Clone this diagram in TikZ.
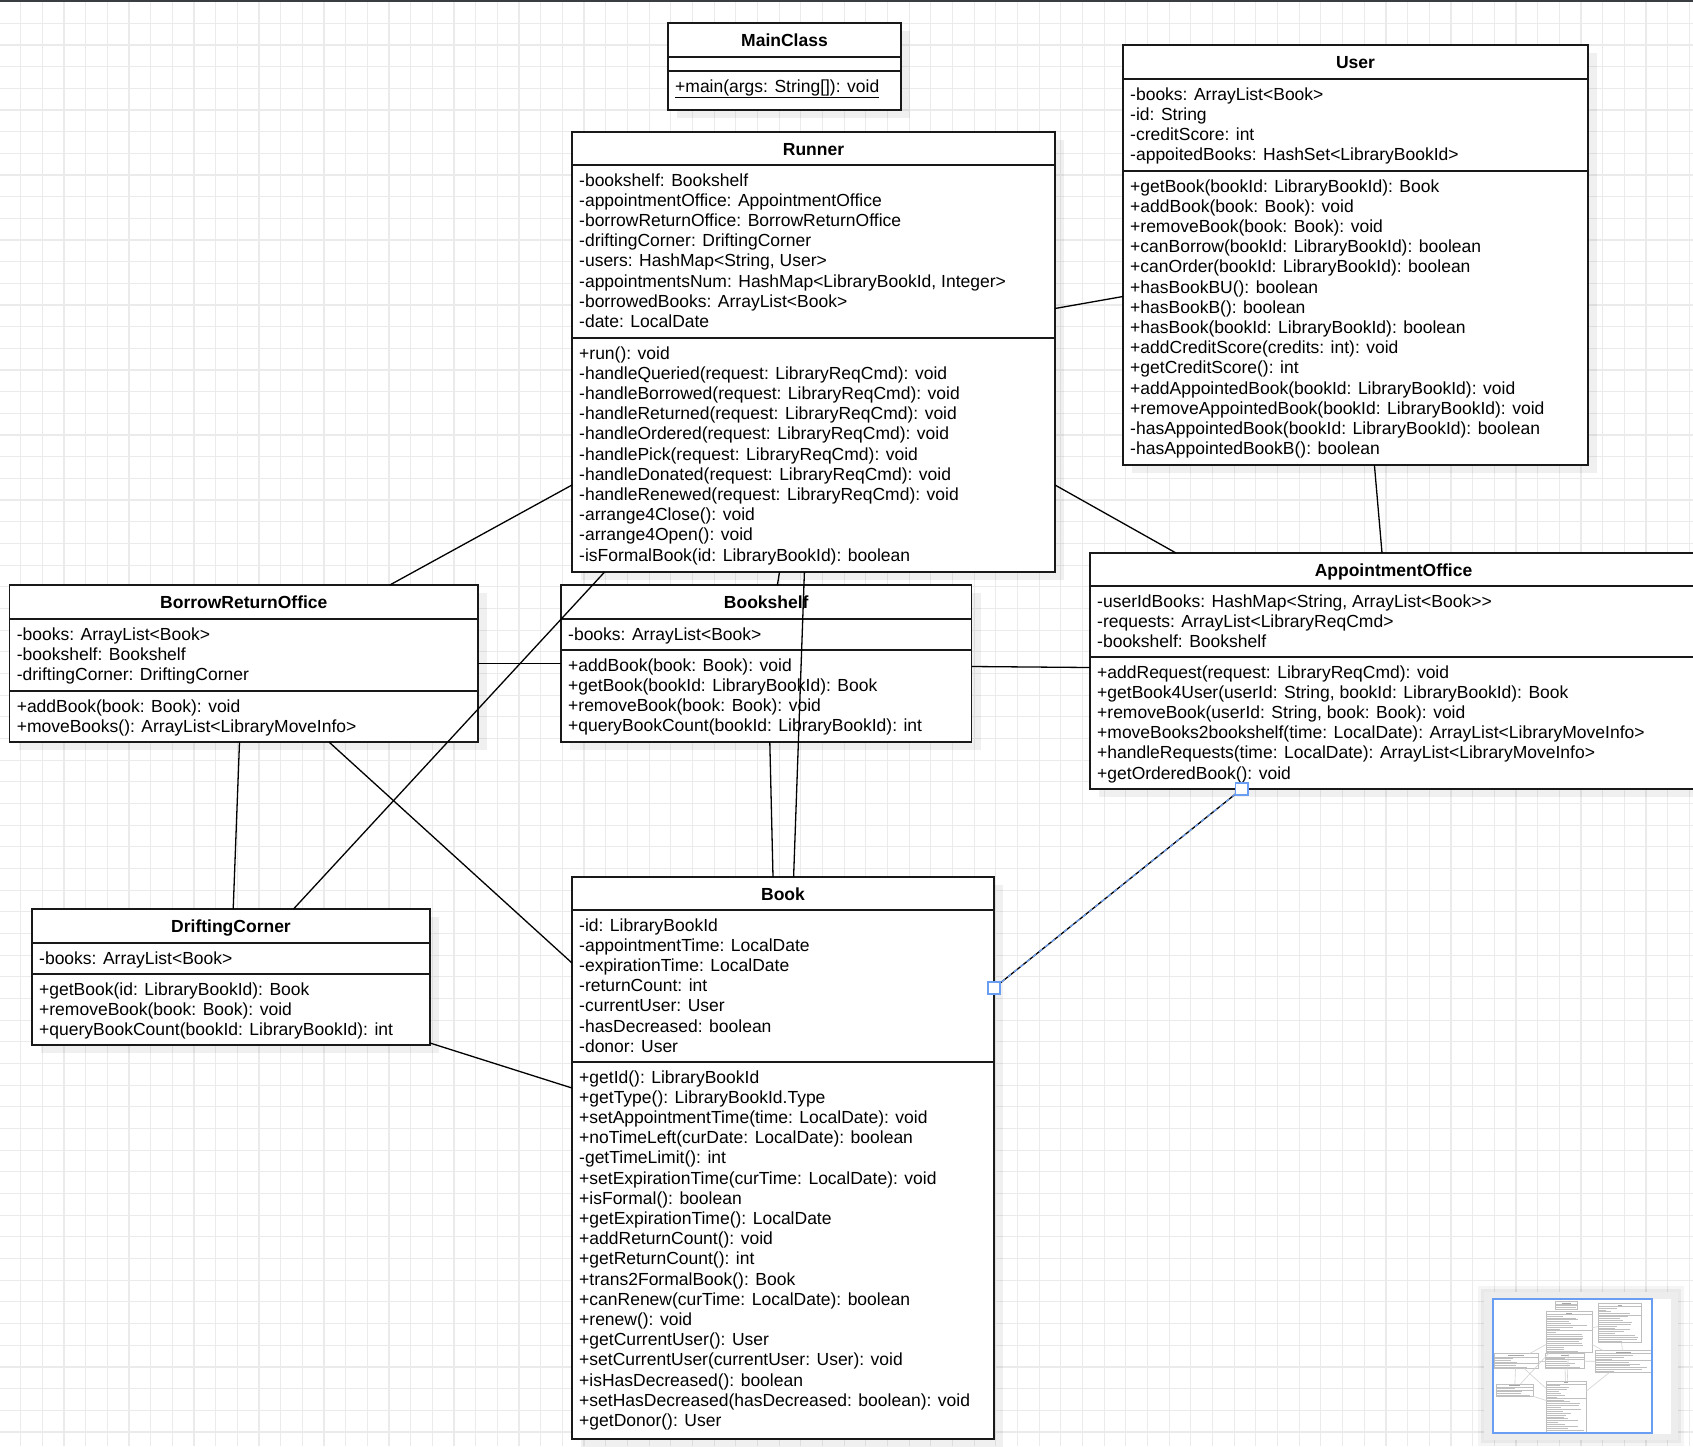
\documentclass[tikz,border=0pt]{standalone}
\usepackage{fontspec}
\setmainfont{Liberation Sans}

\definecolor{colrejilla}{HTML}{EBEBEB}
\definecolor{colbarra}{HTML}{3A3D41}
\definecolor{colazul}{HTML}{6A9EF2}
\definecolor{colmarco}{HTML}{EDEDED}

\newif\ifmapa
\newcommand{\esc}{1}

\tikzset{
  rejilla/.style={draw=colrejilla, line width=1.2pt},
  caja/.style={draw=black!90, line width=1.3pt, fill=white, anchor=north west, inner sep=0pt, outer sep=0pt},
  sombra/.style={fill=black, opacity=0.06},
  linea/.style={draw=black!90, line width=1.3pt},
  conector/.style={draw=black, line width=1.3pt},
  seleccion/.style={draw=colazul, line width=1.3pt, dash pattern=on 4pt off 4pt},
  asa/.style={draw=colazul, fill=white, line width=1.8pt, minimum size=12.5pt, inner sep=0pt},
  titulo/.style={anchor=base, inner sep=0pt, font=\fontsize{17.5}{20}\selectfont\bfseries},
  miembro/.style={anchor=base west, inner sep=0pt, font=\fontsize{17.5}{20}\selectfont},
}

% texto normal, o barra gris en el minimapa
\newcommand{\texto}[1]{\ifmapa\setbox0\hbox{#1}\rule{\esc\wd0}{0.6pt}\else#1\fi}

% caja de clase: nombre, x, y, ancho, alto, titulo
\newcommand{\clase}[6]{%
  \ifmapa\else\fill[sombra] (#2+9,#3+8) rectangle ++(#4,#5);\fi
  \node[caja, minimum width=#4*\esc, minimum height=#5*\esc] (#1) at (#2,#3) {};
  \node[titulo] (#1-titulo) at (#2+#4/2,#3+23.5) {\texto{#6}};
}

% compartimento: nombre, x, y, ancho, lineas
\newcommand{\compartimento}[5]{%
  \draw[linea] (#2,#3) -- ++(#4,0);
  \foreach \txt [count=\k] in {#5}
    \node[miembro] (#1-\k) at ({#2+7},{#3+0.8+\k*20.2}) {\texto{\txt}};
}

\newcommand{\diagrama}{%
  % MainClass
  \clase{mainclass}{668}{23}{233}{87}{MainClass}
  \draw[linea] (668,57) -- ++(233,0);
  \compartimento{mainclass-m}{668}{71}{233}{\underline{+main(args: String[]): void}}

  % Runner
  \clase{runner}{572}{132}{483}{440}{Runner}
  \compartimento{runner-a}{572}{165}{483}{-bookshelf: Bookshelf,
    -appointmentOffice: AppointmentOffice, -borrowReturnOffice: BorrowReturnOffice,
    -driftingCorner: DriftingCorner, {-users: HashMap<String, User>},
    {-appointmentsNum: HashMap<LibraryBookId, Integer>},
    -borrowedBooks: ArrayList<Book>, -date: LocalDate}
  \compartimento{runner-m}{572}{338}{483}{+run(): void,
    -handleQueried(request: LibraryReqCmd): void,
    -handleBorrowed(request: LibraryReqCmd): void,
    -handleReturned(request: LibraryReqCmd): void,
    -handleOrdered(request: LibraryReqCmd): void,
    -handlePick(request: LibraryReqCmd): void,
    -handleDonated(request: LibraryReqCmd): void,
    -handleRenewed(request: LibraryReqCmd): void,
    -arrange4Close(): void, -arrange4Open(): void,
    -isFormalBook(id: LibraryBookId): boolean}

  % User
  \clase{user}{1123}{45}{465}{420}{User}
  \compartimento{user-a}{1123}{79}{465}{-books: ArrayList<Book>, -id: String,
    -creditScore: int, -appoitedBooks: HashSet<LibraryBookId>}
  \compartimento{user-m}{1123}{171}{465}{+getBook(bookId: LibraryBookId): Book,
    +addBook(book: Book): void, +removeBook(book: Book): void,
    +canBorrow(bookId: LibraryBookId): boolean,
    +canOrder(bookId: LibraryBookId): boolean,
    +hasBookBU(): boolean, +hasBookB(): boolean,
    +hasBook(bookId: LibraryBookId): boolean,
    +addCreditScore(credits: int): void, +getCreditScore(): int,
    +addAppointedBook(bookId: LibraryBookId): void,
    +removeAppointedBook(bookId: LibraryBookId): void,
    -hasAppointedBook(bookId: LibraryBookId): boolean,
    -hasAppointedBookB(): boolean}

  % BorrowReturnOffice
  \clase{borrowoffice}{9.6}{585}{468.4}{157}{BorrowReturnOffice}
  \compartimento{borrowoffice-a}{9.6}{619}{468.4}{-books: ArrayList<Book>,
    -bookshelf: Bookshelf, -driftingCorner: DriftingCorner}
  \compartimento{borrowoffice-m}{9.6}{691}{468.4}{+addBook(book: Book): void,
    +moveBooks(): ArrayList<LibraryMoveInfo>}

  % Bookshelf
  \clase{bookshelf}{561}{585}{410.5}{157}{Bookshelf}
  \compartimento{bookshelf-a}{561}{619}{410.5}{-books: ArrayList<Book>}
  \compartimento{bookshelf-m}{561}{650}{410.5}{+addBook(book: Book): void,
    +getBook(bookId: LibraryBookId): Book, +removeBook(book: Book): void,
    +queryBookCount(bookId: LibraryBookId): int}

  % AppointmentOffice
  \clase{appointoffice}{1090}{553}{607}{236}{AppointmentOffice}
  \compartimento{appointoffice-a}{1090}{586}{607}{{-userIdBooks: HashMap<String, ArrayList<Book>{}>},
    -requests: ArrayList<LibraryReqCmd>, -bookshelf: Bookshelf}
  \compartimento{appointoffice-m}{1090}{657}{607}{+addRequest(request: LibraryReqCmd): void,
    {+getBook4User(userId: String, bookId: LibraryBookId): Book},
    {+removeBook(userId: String, book: Book): void},
    +moveBooks2bookshelf(time: LocalDate): ArrayList<LibraryMoveInfo>,
    +handleRequests(time: LocalDate): ArrayList<LibraryMoveInfo>,
    +getOrderedBook(): void}

  % DriftingCorner
  \clase{drifting}{32}{909}{398}{136}{DriftingCorner}
  \compartimento{drifting-a}{32}{943}{398}{-books: ArrayList<Book>}
  \compartimento{drifting-m}{32}{974}{398}{+getBook(id: LibraryBookId): Book,
    +removeBook(book: Book): void, +queryBookCount(bookId: LibraryBookId): int}

  % Book
  \clase{book}{572}{877}{422}{562}{Book}
  \compartimento{book-a}{572}{910}{422}{-id: LibraryBookId,
    -appointmentTime: LocalDate, -expirationTime: LocalDate, -returnCount: int,
    -currentUser: User, -hasDecreased: boolean, -donor: User}
  \compartimento{book-m}{572}{1062}{422}{+getId(): LibraryBookId,
    +getType(): LibraryBookId.Type, +setAppointmentTime(time: LocalDate): void,
    +noTimeLeft(curDate: LocalDate): boolean, -getTimeLimit(): int,
    +setExpirationTime(curTime: LocalDate): void, +isFormal(): boolean,
    +getExpirationTime(): LocalDate, +addReturnCount(): void,
    +getReturnCount(): int, +trans2FormalBook(): Book,
    +canRenew(curTime: LocalDate): boolean, +renew(): void,
    +getCurrentUser(): User, +setCurrentUser(currentUser: User): void,
    +isHasDecreased(): boolean, +setHasDecreased(hasDecreased: boolean): void,
    +getDonor(): User}

  % Relaciones
  \draw[conector] (runner.east |- 0,308.5) -- (user.west |- 0,296.5);
  \draw[conector] (runner.east |- 0,485) -- (appointoffice.north -| 1176,0);
  \draw[conector] (user.south -| 1374.4,0) -- (appointoffice.north -| 1382,0);
  \draw[conector] (runner.west |- 0,485) -- (borrowoffice.north -| 389.8,0);
  \draw[conector] (runner.south -| 604.6,0) -- (drifting.north -| 293.5,0);
  \draw[conector] (runner.south -| 779.5,0) -- (bookshelf.north -| 777.4,0);
  \draw[conector] (runner.south -| 804.4,0) -- (book.north -| 793.6,0);
  \draw[conector] (bookshelf.south -| 769.8,0) -- (book.north -| 773,0);
  \draw[conector] (borrowoffice.east |- 0,663.3) -- (bookshelf.west |- 0,663.3);
  \draw[conector] (bookshelf.east |- 0,666.5) -- (appointoffice.west |- 0,667.5);
  \draw[conector] (borrowoffice.south -| 239.5,0) -- (drifting.north -| 233.2,0);
  \draw[conector] (borrowoffice.south -| 329,0) -- (book.west |- 0,963);
  \draw[conector] (drifting.east |- 0,1043) -- (book.west |- 0,1088);

  % Relacion seleccionada
  \coordinate (sel-a) at (appointoffice.south -| 1241.7,0);
  \coordinate (sel-b) at (book.east |- 0,988);
  \draw[conector] (sel-a) -- (sel-b);
  \ifmapa\else
    \draw[seleccion] (sel-a) -- (sel-b);
    \node[asa] (asa-a) at (sel-a) {};
    \node[asa] (asa-b) at (sel-b) {};
  \fi
}

\begin{document}
\begin{tikzpicture}[x=1pt, y=-1pt]
  \useasboundingbox (0,0) rectangle (1693,1446);

  % Rejilla
  \foreach \i in {0,...,77} \draw[rejilla] ({20.67+\i*21.67},0) -- ++(0,1446);
  \foreach \j in {0,...,66} \draw[rejilla] (0,{1.67+\j*21.67}) -- ++(1693,0);

  % Diagrama
  \diagrama

  % Minimapa
  \fill[black, opacity=0.04] (1478,1286) rectangle (1684,1446);
  \fill[black, opacity=0.05] (1481,1289) rectangle (1681,1443);
  \fill[colmarco] (1484,1292) rectangle (1678,1440);
  \fill[white] (1492.7,1299) rectangle (1670.7,1434);
  \begin{scope}[shift={(1493.1,1298.85)}, x=0.0935pt, y=-0.0935pt,
      caja/.append style={draw=black!25, line width=0.5pt},
      linea/.append style={draw=black!25, line width=0.4pt},
      conector/.append style={draw=black!18, line width=0.6pt},
      miembro/.append style={text=black!25},
      titulo/.append style={text=black!35}]
    \mapatrue
    \renewcommand{\esc}{0.0935}
    \diagrama
  \end{scope}
  \draw[colazul, line width=2pt] (1493.3,1299.3) rectangle (1652.3,1433.3);

  % Borde superior
  \fill[colbarra] (0,0) rectangle (1693,2.3);
\end{tikzpicture}
\end{document}
